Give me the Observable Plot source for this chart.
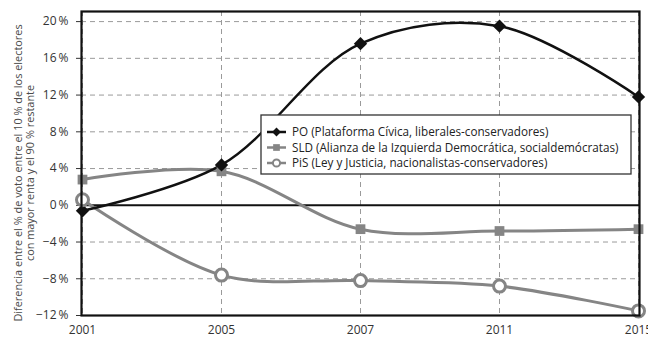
<!DOCTYPE html>
<html>
<head>
<meta charset="utf-8">
<script src="https://cdn.jsdelivr.net/npm/d3@7"></script>
<script src="https://cdn.jsdelivr.net/npm/@observablehq/plot@0.6"></script>
<style>
  html, body { margin: 0; padding: 0; background: #fff; }
  #chart { position: relative; width: 648px; height: 338px; overflow: hidden; }
</style>
</head>
<body>
<div id="chart"></div>
<script>
const years = ["2001", "2005", "2007", "2011", "2015"];
const poValues = [-0.6, 4.4, 17.6, 19.5, 11.8];
const sldValues = [2.8, 3.7, -2.6, -2.8, -2.6];
const pisValues = [0.6, -7.6, -8.2, -8.8, -11.5];
const yTicks = [-12, -8, -4, 0, 4, 8, 12, 16, 20];
const seriesNames = [
  "PO (Plataforma Cívica, liberales-conservadores)",
  "SLD (Alianza de la Izquierda Democrática, socialdemócratas)",
  "PiS (Ley y Justicia, nacionalistas-conservadores)"
];
const yLabelLines = [
  "Diferencia entre el % de voto entre el 10 % de los electores",
  "con mayor renta y el 90 % restante"
];

const po = years.map((y, i) => ({year: y, value: poValues[i]}));
const sld = years.map((y, i) => ({year: y, value: sldValues[i]}));
const pis = years.map((y, i) => ({year: y, value: pisValues[i]}));

const GRAY = "#858585";
const fmt = d => (d < 0 ? "\u2212" : "") + Math.abs(d) + "\u2009%";

const chart = Plot.plot({
  width: 648,
  height: 338,
  marginLeft: 81,
  marginRight: 9,
  marginTop: 11,
  marginBottom: 23,
  style: {fontFamily: "'Open Sans', sans-serif", fontSize: "12px", color: "#333", background: "#fff"},
  x: {type: "point", domain: years, padding: 0, label: null, tickSize: 0, tickPadding: 10},
  y: {domain: [-12, 21.1], ticks: yTicks, tickFormat: fmt, label: null, tickSize: 5, tickPadding: 8},
  marks: [
    Plot.ruleY(yTicks.filter(d => d !== 0), {stroke: "#9a9a9a", strokeDasharray: "5,4", strokeWidth: 1}),
    Plot.ruleX(years, {stroke: "#9a9a9a", strokeDasharray: "5,4", strokeWidth: 1}),
    Plot.ruleY([0], {stroke: "#111", strokeWidth: 2}),
    Plot.line(sld, {x: "year", y: "value", stroke: GRAY, strokeWidth: 3, curve: "catmull-rom"}),
    Plot.line(pis, {x: "year", y: "value", stroke: GRAY, strokeWidth: 3, curve: "catmull-rom"}),
    Plot.line(po, {x: "year", y: "value", stroke: "#111", strokeWidth: 2.5, curve: "catmull-rom"}),
    Plot.dot(sld, {x: "year", y: "value", symbol: "square", r: 5.5, fill: GRAY, stroke: "none"}),
    Plot.dot(po, {x: "year", y: "value", symbol: "diamond2", r: 6, fill: "#111", stroke: "none"}),
    Plot.dot(pis, {x: "year", y: "value", symbol: "circle", r: 6, fill: "#fff", stroke: GRAY, strokeWidth: 3}),
    Plot.frame({stroke: "#111", strokeWidth: 2.2})
  ]
});

document.getElementById("chart").appendChild(chart);

const svg = d3.select(chart);
// y-axis title
const yl = svg.append("text")
  .attr("transform", "translate(0,173) rotate(-90)")
  .attr("text-anchor", "middle")
  .attr("fill", "#4a4a4a")
  .style("font-family", "'Open Sans', sans-serif")
  .style("font-size", "10.9px");
yl.append("tspan").attr("x", 0).attr("y", 22).text(yLabelLines[0]);
yl.append("tspan").attr("x", 0).attr("y", 34).text(yLabelLines[1]);

// legend
const lg = svg.append("g").attr("transform", "translate(261,115)").attr("text-anchor", "start");
lg.append("rect").attr("width", 370).attr("height", 59)
  .attr("fill", "#fff").attr("stroke", "#333").attr("stroke-width", 1.3);
const legendStyles = [
  {stroke: "#111", sym: d3.symbolDiamond2 || d3.symbolSquare, rot: d3.symbolDiamond2 ? 0 : 45, size: 50, fill: "#111", sstroke: "none", sw: 0},
  {stroke: GRAY, sym: d3.symbolSquare, rot: 0, size: 45, fill: GRAY, sstroke: "none", sw: 0},
  {stroke: GRAY, sym: d3.symbolCircle, rot: 0, size: 40, fill: "#fff", sstroke: GRAY, sw: 2}
];
seriesNames.forEach((name, i) => {
  const g = lg.append("g").attr("transform", `translate(0,${17 + i * 15.5})`);
  const s = legendStyles[i];
  g.append("line").attr("x1", 6).attr("x2", 25).attr("y1", 0).attr("y2", 0)
    .attr("stroke", s.stroke).attr("stroke-width", 2.5);
  g.append("path").attr("d", d3.symbol(s.sym, s.size)()).attr("transform", `translate(15.5,0) rotate(${s.rot})`)
    .attr("fill", s.fill).attr("stroke", s.sstroke).attr("stroke-width", s.sw);
  g.append("text").attr("x", 31).attr("y", 0).attr("dy", "0.35em")
    .attr("text-anchor", "start")
    .attr("fill", "#222")
    .style("font-family", "'Open Sans', sans-serif").style("font-size", "11.7px")
    .text(name);
});
</script>
</body>
</html>
